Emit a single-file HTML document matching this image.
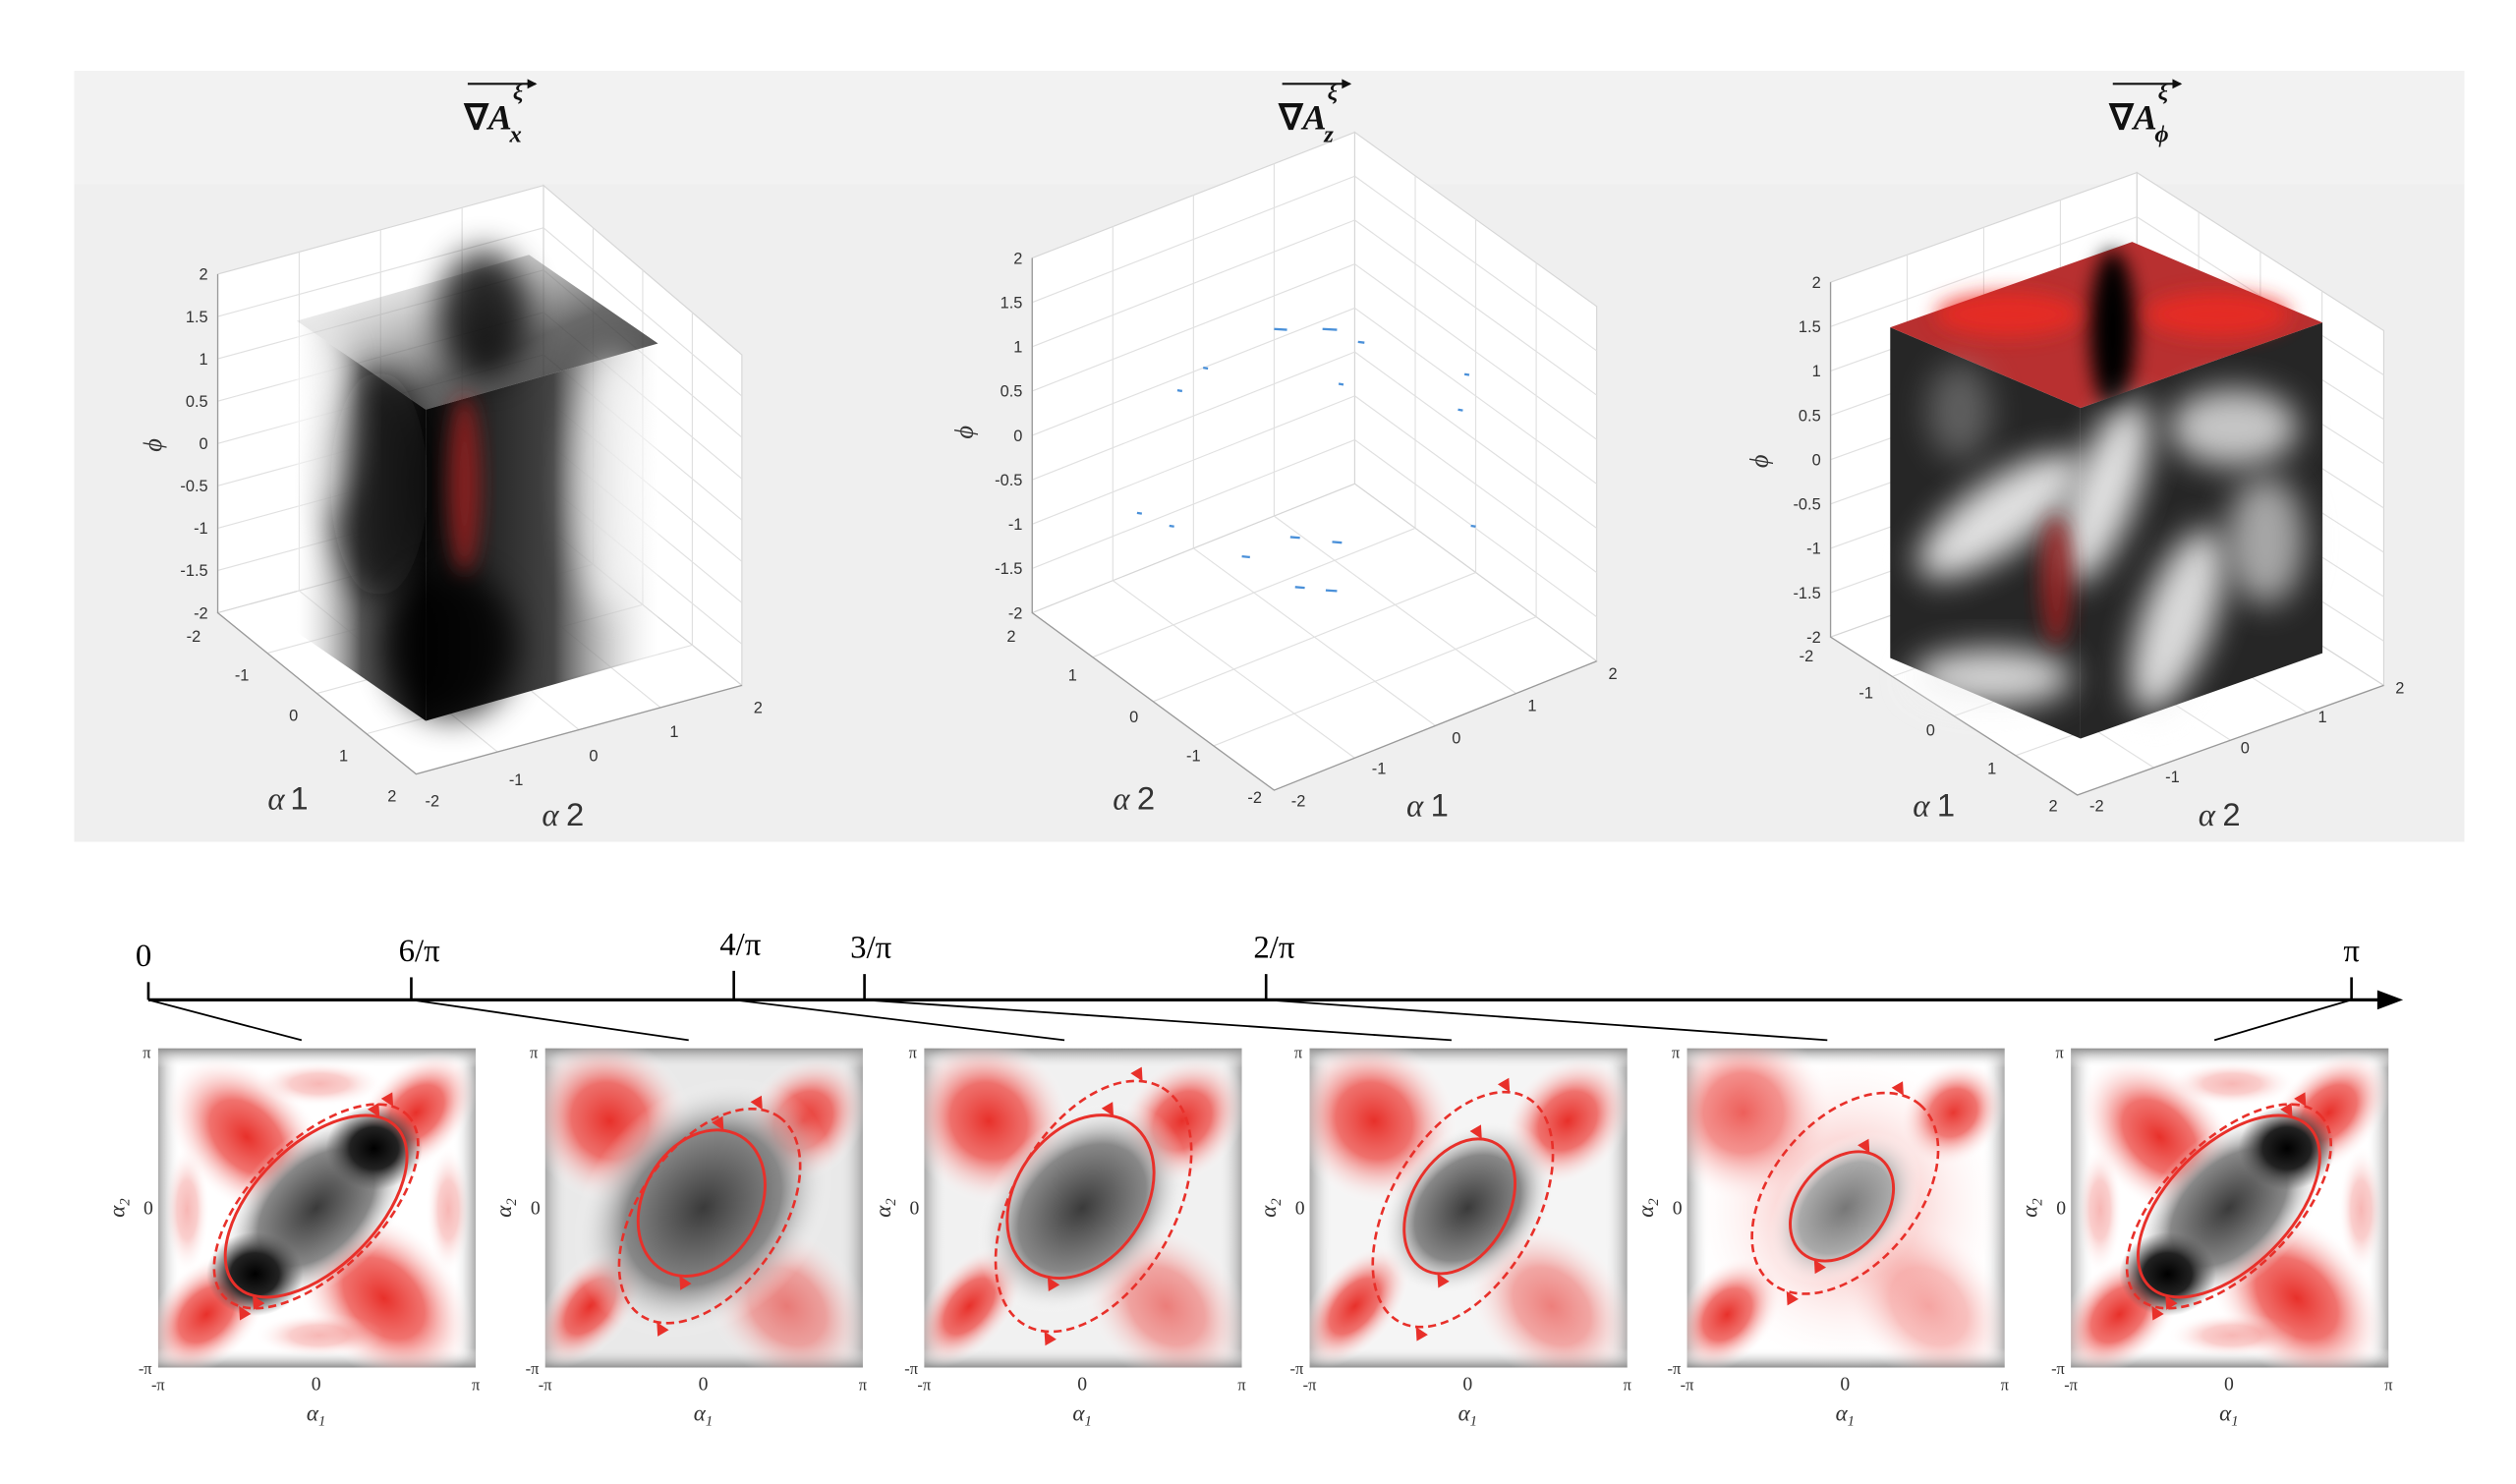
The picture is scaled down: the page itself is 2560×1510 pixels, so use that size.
<!DOCTYPE html>
<html><head><meta charset="utf-8">
<style>
html,body{margin:0;padding:0;background:#fff;}
svg{display:block;}
text{font-family:"Liberation Sans",sans-serif;}
.s{font-family:"Liberation Serif",serif;}
</style></head>
<body>
<svg id="S" width="2560" height="1510" viewBox="0 0 1560 920.2" preserveAspectRatio="none">
<defs>
<filter id="b3" x="-50%" y="-50%" width="200%" height="200%"><feGaussianBlur stdDeviation="3"/></filter>
<filter id="b6" x="-50%" y="-50%" width="200%" height="200%"><feGaussianBlur stdDeviation="6"/></filter>
<filter id="b10" x="-50%" y="-50%" width="200%" height="200%"><feGaussianBlur stdDeviation="10"/></filter>
<radialGradient id="gc"><stop offset="0" stop-color="#3a3a3a"/><stop offset="0.6" stop-color="#888"/><stop offset="1" stop-color="#fff" stop-opacity="0"/></radialGradient>
<radialGradient id="gc2"><stop offset="0" stop-color="#777"/><stop offset="0.6" stop-color="#aaa"/><stop offset="1" stop-color="#fff" stop-opacity="0"/></radialGradient>
<radialGradient id="gk"><stop offset="0" stop-color="#000"/><stop offset="0.5" stop-color="#222"/><stop offset="1" stop-color="#555" stop-opacity="0"/></radialGradient>
<radialGradient id="gr"><stop offset="0" stop-color="#e8302a"/><stop offset="0.45" stop-color="#ee5a55" stop-opacity="0.85"/><stop offset="1" stop-color="#fff" stop-opacity="0"/></radialGradient>
<linearGradient id="eL" x1="0" x2="1" y1="0" y2="0"><stop offset="0" stop-color="#666"/><stop offset="1" stop-color="#fff" stop-opacity="0"/></linearGradient>
<linearGradient id="eR" x1="1" x2="0" y1="0" y2="0"><stop offset="0" stop-color="#666"/><stop offset="1" stop-color="#fff" stop-opacity="0"/></linearGradient>
<linearGradient id="eT" x1="0" x2="0" y1="0" y2="1"><stop offset="0" stop-color="#333"/><stop offset="1" stop-color="#fff" stop-opacity="0"/></linearGradient>
<linearGradient id="eB" x1="0" x2="0" y1="1" y2="0"><stop offset="0" stop-color="#333"/><stop offset="1" stop-color="#fff" stop-opacity="0"/></linearGradient>
<linearGradient id="c1L" x1="0" x2="1" y1="0" y2="0"><stop offset="0" stop-color="#fff" stop-opacity="0.2"/><stop offset="0.5" stop-color="#555"/><stop offset="1" stop-color="#0a0a0a"/></linearGradient>
<linearGradient id="c1R" x1="0" x2="1" y1="0" y2="0"><stop offset="0" stop-color="#0a0a0a"/><stop offset="0.55" stop-color="#444"/><stop offset="1" stop-color="#fff" stop-opacity="0.2"/></linearGradient>
<linearGradient id="c1T" x1="0" x2="1" y1="0" y2="1"><stop offset="0" stop-color="#fff" stop-opacity="0.1"/><stop offset="0.6" stop-color="#444"/><stop offset="1" stop-color="#111"/></linearGradient>
</defs>
<rect x="46" y="44" width="1482" height="478" fill="#efefef"/>
<rect x="46" y="44" width="1482" height="70" fill="#f2f2f2"/>
<g id="G"></g>
</svg>
<script>
var out='';
function P(a){return a.map(function(p){return p[0]+','+p[1]}).join(' ')}
function L(a,b,t){return [a[0]+(b[0]-a[0])*t,a[1]+(b[1]-a[1])*t]}
function wall(p0,p1,p2,p3,nu,nv){
 var s='<polygon points="'+P([p0,p1,p2,p3])+'" fill="#fff" stroke="#d6d6d6" stroke-width="0.7"/>';
 for(var i=1;i<nu;i++){var a=L(p0,p1,i/nu),b=L(p3,p2,i/nu);s+='<line x1="'+a[0]+'" y1="'+a[1]+'" x2="'+b[0]+'" y2="'+b[1]+'" stroke="#e0e0e0" stroke-width="0.7"/>';}
 for(var j=1;j<nv;j++){var a=L(p0,p3,j/nv),b=L(p1,p2,j/nv);s+='<line x1="'+a[0]+'" y1="'+a[1]+'" x2="'+b[0]+'" y2="'+b[1]+'" stroke="#e0e0e0" stroke-width="0.7"/>';}
 return s;
}
function cube(Lt,Lb,Bt,Bb,Rt,Rb,F){
 var s=wall(Lt,Bt,Bb,Lb,4,8)+wall(Bt,Rt,Rb,Bb,4,8)+wall(Lb,Bb,Rb,F,4,4);
 s+='<polyline points="'+P([Lt,Lb,F,Rb])+'" fill="none" stroke="#9a9a9a" stroke-width="0.8"/>';
 var z=['2','1.5','1','0.5','0','-0.5','-1','-1.5','-2'];
 for(var i=0;i<9;i++){var y=Lt[1]+(Lb[1]-Lt[1])*i/8;s+='<text x="'+(Lt[0]-6)+'" y="'+(y+3.5)+'" font-size="10" text-anchor="end" fill="#333">'+z[i]+'</text>';}
 return s;
}
function T(x,y,t,sz,anc){return '<text x="'+x+'" y="'+y+'" font-size="'+(sz||10)+'" text-anchor="'+(anc||'middle')+'" fill="#333">'+t+'</text>'}
function title(x,sub){
 return '<g><text class="s" x="'+(x-22)+'" y="80" font-size="22" font-weight="bold" fill="#111">∇<tspan font-style="italic">A</tspan></text>'+
 '<text class="s" x="'+(x+6)+'" y="88" font-size="15" font-style="italic" font-weight="bold" fill="#111">'+sub+'</text>'+
 '<text class="s" x="'+(x+8)+'" y="62" font-size="14" font-style="italic" font-weight="bold" fill="#111">ξ</text>'+
 '<line x1="'+(x-20)+'" y1="52" x2="'+(x+22)+'" y2="52" stroke="#111" stroke-width="1.3"/><polygon points="'+(x+23)+',52 '+(x+17)+',49 '+(x+17)+',55" fill="#111"/></g>';
}
// Cube 1
out+=cube([135,170],[135,380],[337,115],[337,325],[460,220],[460,425],[258,480]);
out+=T(120,398,'-2')+T(150,422,'-1')+T(182,447,'0')+T(213,472,'1')+T(243,497,'2')+T(268,500,'-2')+T(320,487,'-1')+T(368,472,'0')+T(418,457,'1')+T(470,442,'2');
out+='<text class="s" x="166" y="502" font-size="20" font-style="italic" fill="#333">α</text><text x="180" y="502" font-size="20" fill="#333">1</text>';
out+='<text class="s" x="336" y="512" font-size="20" font-style="italic" fill="#333">α</text><text x="351" y="512" font-size="20" fill="#333">2</text>';
out+='<text class="s" x="100" y="276" font-size="16" font-style="italic" fill="#333" transform="rotate(-90 100 276)" text-anchor="middle">ϕ</text>';
out+='<g><polygon points="184,199 264,254 264,447 184,392" fill="url(#c1L)"/>'+
'<polygon points="264,254 408,213 408,406 264,447" fill="url(#c1R)"/>'+
'<polygon points="328,158 184,199 264,254 408,213" fill="url(#c1T)" opacity="0.8"/>'+
'<ellipse cx="300" cy="195" rx="28" ry="40" fill="#000" filter="url(#b10)" opacity="0.8"/>'+
'<ellipse cx="235" cy="300" rx="30" ry="70" fill="#111" filter="url(#b10)" opacity="0.7"/>'+
'<ellipse cx="280" cy="400" rx="40" ry="45" fill="#000" filter="url(#b10)" opacity="0.8"/>'+
'<ellipse cx="380" cy="300" rx="25" ry="80" fill="#fff" filter="url(#b10)" opacity="0.6"/>'+
'<ellipse cx="200" cy="260" rx="18" ry="60" fill="#fff" filter="url(#b10)" opacity="0.6"/>'+
'<ellipse cx="288" cy="300" rx="10" ry="55" fill="#b02020" filter="url(#b6)" opacity="0.7"/></g>';
out+=title(310,'x');
// Cube 2
out+=cube([640,160],[640,380],[840,82],[840,300],[990,190],[990,410],[790,490]);
out+=T(627,398,'2')+T(665,422,'1')+T(703,448,'0')+T(740,472,'-1')+T(778,498,'-2')+T(805,500,'-2')+T(855,480,'-1')+T(903,461,'0')+T(950,441,'1')+T(1000,421,'2');
out+='<text class="s" x="690" y="502" font-size="20" font-style="italic" fill="#333">α</text><text x="705" y="502" font-size="20" fill="#333">2</text>';
out+='<text class="s" x="872" y="506" font-size="20" font-style="italic" fill="#333">α</text><text x="887" y="506" font-size="20" fill="#333">1</text>';
out+='<text class="s" x="603" y="268" font-size="16" font-style="italic" fill="#333" transform="rotate(-90 603 268)" text-anchor="middle">ϕ</text>';
var bl=[[790,204,8],[820,204,9],[842,212,4],[730,242,3],[904,254,3],[800,333,6],[826,336,6],[770,345,5],[803,364,6],[822,366,7],[725,326,3],[705,318,3],[912,326,3],[746,228,3],[830,238,3],[908,232,3]];
for(var i=0;i<bl.length;i++)out+='<line x1="'+bl[i][0]+'" y1="'+bl[i][1]+'" x2="'+(bl[i][0]+bl[i][2])+'" y2="'+(bl[i][1]+0.5)+'" stroke="#4a90d9" stroke-width="1.4"/>';
out+=title(815,'z');
// Cube 3
out+=cube([1135,175],[1135,395],[1325,107],[1325,327],[1478,205],[1478,425],[1288,493]);
out+=T(1120,410,'-2')+T(1157,433,'-1')+T(1197,456,'0')+T(1235,480,'1')+T(1273,503,'2')+T(1300,503,'-2')+T(1347,485,'-1')+T(1392,467,'0')+T(1440,448,'1')+T(1488,430,'2');
out+='<text class="s" x="1186" y="506" font-size="20" font-style="italic" fill="#333">α</text><text x="1201" y="506" font-size="20" fill="#333">1</text>';
out+='<text class="s" x="1363" y="512" font-size="20" font-style="italic" fill="#333">α</text><text x="1378" y="512" font-size="20" fill="#333">2</text>';
out+='<text class="s" x="1096" y="286" font-size="16" font-style="italic" fill="#333" transform="rotate(-90 1096 286)" text-anchor="middle">ϕ</text>';
out+='<g><polygon points="1172,203 1290,253 1290,458 1172,408" fill="#262626"/>'+
'<polygon points="1290,253 1440,200 1440,405 1290,458" fill="#262626"/>'+
'<polygon points="1322,150 1172,203 1290,253 1440,200" fill="#b83030"/>'+
'<ellipse cx="1310" cy="205" rx="14" ry="50" fill="#000" filter="url(#b6)"/>'+
'<ellipse cx="1240" cy="320" rx="60" ry="22" fill="#f4f4f4" filter="url(#b10)" transform="rotate(-35 1240 320)" opacity="0.9"/>'+
'<ellipse cx="1305" cy="305" rx="20" ry="60" fill="#f4f4f4" filter="url(#b10)" transform="rotate(20 1305 305)" opacity="0.9"/>'+
'<ellipse cx="1385" cy="265" rx="40" ry="24" fill="#eee" filter="url(#b10)" opacity="0.8"/>'+
'<ellipse cx="1350" cy="385" rx="22" ry="60" fill="#eee" filter="url(#b10)" transform="rotate(20 1350 385)" opacity="0.9"/>'+
'<ellipse cx="1235" cy="420" rx="50" ry="18" fill="#f2f2f2" filter="url(#b10)" opacity="0.85"/>'+
'<ellipse cx="1405" cy="335" rx="24" ry="40" fill="#ddd" filter="url(#b10)" opacity="0.7"/>'+
'<ellipse cx="1215" cy="255" rx="20" ry="30" fill="#999" filter="url(#b10)" opacity="0.5"/>'+
'<ellipse cx="1275" cy="360" rx="10" ry="40" fill="#a02020" filter="url(#b6)" opacity="0.8"/>'+
'<ellipse cx="1375" cy="195" rx="45" ry="14" fill="#f02a20" filter="url(#b6)" opacity="0.8"/>'+
'<ellipse cx="1245" cy="195" rx="45" ry="14" fill="#f02a20" filter="url(#b6)" opacity="0.8"/></g>';
out+=title(1330,'ϕ');
// timeline
out+='<line x1="92" y1="620" x2="1478" y2="620" stroke="#000" stroke-width="2"/><polygon points="1474,614 1490,620 1474,626" fill="#000"/>';
var tk=[[92,'0',89,603],[255,'6/π',260,600],[455,'4/π',459,596],[536,'3/π',540,598],[785,'2/π',790,598],[1458,'π',1458,600]];
for(var i=0;i<tk.length;i++){out+='<line x1="'+tk[i][0]+'" y1="'+(tk[i][3]+6)+'" x2="'+tk[i][0]+'" y2="620" stroke="#000" stroke-width="1.6"/><text class="s" x="'+tk[i][2]+'" y="'+(tk[i][3]-4)+'" font-size="20" text-anchor="middle" fill="#000">'+tk[i][1]+'</text>';}
var cn=[[92,187],[255,427],[455,660],[536,900],[785,1133],[1458,1373]];
for(var i=0;i<cn.length;i++)out+='<line x1="'+cn[i][0]+'" y1="620" x2="'+cn[i][1]+'" y2="645" stroke="#000" stroke-width="1.1"/>';
function arrow(x,y,ang){return '<polygon points="0,0 -8,-4 -8,4" fill="#e8302a" transform="translate('+x+' '+y+') rotate('+ang+')"/>'}
function hm(x,o){
 var s='<svg x="'+x+'" y="650" width="197" height="198" overflow="hidden"><rect width="197" height="198" fill="#fff"/>';
 s+='<g opacity="0.55"><rect width="14" height="198" fill="url(#eL)"/><rect x="183" width="14" height="198" fill="url(#eR)"/><rect x="0" width="197" height="12" fill="url(#eT)"/><rect x="0" y="186" width="197" height="12" fill="url(#eB)"/></g>';
 if(o.bg)s+='<rect width="197" height="198" fill="#9a9a9a" opacity="'+o.bg+'"/>';
 var r=o.red;
 for(var i=0;i<r.length;i++)s+='<ellipse cx="'+r[i][0]+'" cy="'+r[i][1]+'" rx="'+r[i][2]+'" ry="'+r[i][3]+'" fill="url(#gr)" opacity="'+(r[i][4]||1)+'" transform="rotate('+(r[i][5]||0)+' '+r[i][0]+' '+r[i][1]+')"/>';
 s+='<ellipse cx="98" cy="99" rx="'+o.ga+'" ry="'+o.gb+'" fill="url(#'+(o.light?'gc2':'gc')+')" transform="rotate(-45 98 99)"/>';
 if(o.two){s+='<ellipse cx="134" cy="62" rx="30" ry="26" fill="url(#gk)"/><ellipse cx="60" cy="140" rx="30" ry="26" fill="url(#gk)"/>';}
 var d=o.d,c=o.c;
 s+='<ellipse cx="'+d[0]+'" cy="'+d[1]+'" rx="'+d[2]+'" ry="'+d[3]+'" fill="none" stroke="#e8302a" stroke-width="1.6" stroke-dasharray="5 3" transform="rotate('+d[4]+' '+d[0]+' '+d[1]+')"/>';
 s+='<ellipse cx="'+c[0]+'" cy="'+c[1]+'" rx="'+c[2]+'" ry="'+c[3]+'" fill="none" stroke="#e8302a" stroke-width="1.8" transform="rotate('+c[4]+' '+c[0]+' '+c[1]+')"/>';
 var ar=function(e,t,ang){var a=e[2],b=e[3],r=e[4]*Math.PI/180;var px=a*Math.cos(t),py=b*Math.sin(t);return arrow(e[0]+px*Math.cos(r)-py*Math.sin(r),e[1]+px*Math.sin(r)+py*Math.cos(r),ang)};
 s+=ar(c,-0.3,60)+ar(c,Math.PI-0.3,240)+ar(d,-0.25,60)+ar(d,Math.PI-0.25,240);
 s+='</svg>';
 s+='<text class="s" x="'+(x-7)+'" y="656" font-size="10" text-anchor="middle" fill="#333">π</text>';
 s+='<text class="s" x="'+(x-6)+'" y="753" font-size="12" text-anchor="middle" fill="#333">0</text>';
 s+='<text class="s" x="'+(x-8)+'" y="852" font-size="10" text-anchor="middle" fill="#333">-π</text>';
 s+='<text class="s" x="'+x+'" y="862" font-size="10" text-anchor="middle" fill="#333">-π</text>';
 s+='<text class="s" x="'+(x+98)+'" y="862" font-size="12" text-anchor="middle" fill="#333">0</text>';
 s+='<text class="s" x="'+(x+197)+'" y="862" font-size="10" text-anchor="middle" fill="#333">π</text>';
 s+='<text class="s" x="'+(x+98)+'" y="881" font-size="14" font-style="italic" text-anchor="middle" fill="#333">α<tspan font-size="9" dy="3">1</tspan></text>';
 s+='<text class="s" x="'+(x-21)+'" y="749" font-size="14" font-style="italic" text-anchor="middle" fill="#333" transform="rotate(-90 '+(x-21)+' 749)">α<tspan font-size="9" dy="3">2</tspan></text>';
 return s;
}
var redA=[[55,55,60,40,1,45],[160,40,30,45,1,45],[30,165,30,45,1,45],[140,155,65,45,1,45],[100,22,40,14,0.35],[18,100,14,40,0.35],[180,100,14,40,0.35],[100,178,40,14,0.35]];
var redB=[[40,45,55,50,1,45],[160,45,35,45,1,45],[28,160,25,45,1,40],[150,160,60,45,0.6,45]];
out+=hm(98,{two:1,ga:72,gb:45,red:redA,c:[98,98,70,38,-45],d:[98,98,80,40,-45]});
out+=hm(338,{ga:90,gb:70,bg:0.22,red:redB,c:[97,96,48,36,-60],d:[102,104,75,44,-55]});
out+=hm(573,{ga:75,gb:55,bg:0.14,red:redB,c:[97,92,55,40,-55],d:[105,98,85,50,-60]});
out+=hm(812,{ga:62,gb:46,bg:0.1,red:redB,c:[93,98,45,30,-60],d:[95,100,80,45,-60]});
out+=hm(1046,{ga:55,gb:38,light:1,red:[[35,40,55,55,0.8,45],[165,40,30,35,1,45],[25,165,28,40,1,40],[150,160,60,45,0.45,45],[100,100,100,100,0.25]],c:[96,98,38,27,-50],d:[98,90,72,45,-50]});
out+=hm(1284,{two:1,ga:72,gb:45,red:redA,c:[98,98,70,38,-45],d:[98,98,80,40,-45]});
document.getElementById('G').innerHTML=out;
</script>
</body></html>
